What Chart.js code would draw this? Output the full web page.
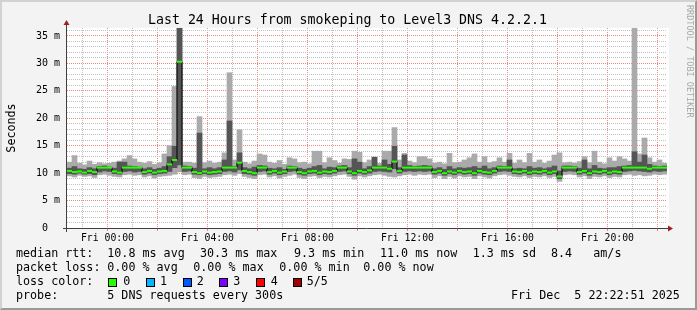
<!DOCTYPE html>
<html>
<head>
<meta charset="utf-8">
<script src="https://cdn.jsdelivr.net/npm/chart.js@4.4.1/dist/chart.umd.min.js"></script>
<style>
  html, body { margin: 0; padding: 0; }
  body { width: 697px; height: 310px; overflow: hidden; position: relative; font-family: 'DejaVu Sans Mono', monospace; }
  #frame {
    position: absolute; left: 0; top: 0; width: 697px; height: 310px; box-sizing: border-box;
    background: #f3f3f3;
    border-top: 2px solid #d2d2d2; border-left: 2px solid #d2d2d2;
    border-right: 2px solid #9a9a9a; border-bottom: 2px solid #9a9a9a;
  }
  canvas { position: absolute; left: 0; top: 0; }
  .t { position: absolute; white-space: pre; color: #000; line-height: 1; }
  .leg { font-size: 11.7px; }
  .box { position: absolute; width: 9px; height: 9px; box-sizing: border-box; border: 1px solid #000; }
</style>
</head>
<body>
<div id="frame"></div>
<canvas id="smoke" width="697" height="310"></canvas>

<div class="t" style="left:148px; top:12.8px; font-size:13.25px;">Last 24 Hours from smokeping to Level3 DNS 4.2.2.1</div>
<div class="t" style="left:-19px; top:120.5px; width:60px; height:14px; line-height:14px; text-align:center; font-size:11.7px; transform:rotate(-90deg);">Seconds</div>
<div class="t" style="left:685px; top:5px; font-size:8.5px; color:#a8a8a8; writing-mode:vertical-rl;">RRDTOOL / TOBI OETIKER</div>

<div id="legend"></div>

<script>
// time axis: hours relative to Fri 00:00, the graph ends Fri 22:22:51
const startHour = -1.619;
const binHours = 0.2;

// per 12-minute bin, milliseconds
const medianRtt = [
  10.4, 10.2, 10.3, 10.1, 10.4, 10.2, 11.0, 11.0, 11.0, 10.3,
  10.1, 11.0, 11.0, 11.0, 11.0, 10.2, 10.4, 10.1, 10.3, 10.4,
  11.6, 12.4, 30.3, 11.0, 11.0, 10.2, 10.0, 10.3, 10.1, 10.2,
  10.3, 11.0, 11.0, 11.0, 11.9, 10.4, 10.2, 10.0, 11.0, 11.0,
  10.2, 10.4, 10.1, 10.3, 11.0, 11.0, 10.2, 10.0, 10.3, 10.4,
  10.1, 10.3, 10.2, 10.4, 11.0, 11.0, 10.3, 10.0, 10.4, 10.2,
  10.5, 11.0, 11.0, 11.0, 10.8, 12.1, 10.4, 11.0, 11.0, 11.0,
  11.0, 11.0, 11.0, 10.2, 10.4, 10.0, 10.3, 10.1, 10.4, 10.2,
  10.3, 10.0, 10.4, 10.2, 10.1, 10.4, 11.0, 11.0, 11.0, 10.3,
  10.2, 10.4, 10.1, 10.3, 10.2, 10.4, 10.1, 10.3, 9.4, 11.0,
  11.0, 11.0, 10.2, 10.4, 10.0, 10.3, 10.2, 10.4, 10.1, 10.3,
  10.2, 11.0, 11.0, 11.0, 11.0, 11.0, 10.8, 11.0, 11.0, 11.0
];

const darkLo = [
  9.9, 9.8, 10.0, 9.8, 9.9, 9.7, 10.2, 10.4, 10.3, 9.9,
  9.8, 10.3, 10.4, 10.2, 10.3, 9.8, 10.0, 9.7, 9.9, 10.0,
  10.3, 11.0, 11.5, 10.3, 10.4, 9.8, 9.7, 9.9, 9.7, 9.8,
  9.9, 10.3, 10.4, 10.2, 10.6, 9.9, 9.8, 9.6, 10.3, 10.4,
  9.8, 10.0, 9.7, 9.9, 10.3, 10.4, 9.8, 9.6, 9.9, 10.0,
  9.7, 9.9, 9.8, 10.0, 10.3, 10.4, 9.9, 9.6, 10.0, 9.8,
  10.0, 10.3, 10.4, 10.3, 10.2, 10.8, 10.0, 10.3, 10.4, 10.3,
  10.4, 10.3, 10.4, 9.8, 10.0, 9.6, 9.9, 9.7, 10.0, 9.8,
  9.9, 9.6, 10.0, 9.8, 9.7, 10.0, 10.3, 10.4, 10.3, 9.9,
  9.8, 10.0, 9.7, 9.9, 9.8, 10.0, 9.7, 9.9, 9.0, 10.3,
  10.4, 10.3, 9.8, 10.0, 9.6, 9.9, 9.8, 10.0, 9.7, 9.9,
  9.8, 10.3, 10.4, 10.5, 10.4, 10.3, 10.2, 10.4, 10.3, 10.4
];

const darkHi = [
  10.9, 11.2, 10.8, 10.7, 11.0, 10.8, 11.2, 11.3, 11.1, 10.9,
  12.0, 12.0, 11.3, 11.2, 11.1, 10.8, 11.0, 10.7, 10.9, 11.2,
  13.0, 14.9, 40.0, 11.3, 11.2, 10.9, 17.3, 10.8, 11.0, 10.8,
  11.0, 12.4, 19.5, 11.2, 13.7, 11.0, 10.8, 11.1, 11.4, 11.3,
  10.9, 10.8, 11.0, 10.7, 11.3, 11.2, 10.9, 10.7, 10.9, 11.2,
  11.4, 10.8, 11.1, 11.0, 11.3, 11.4, 11.0, 12.6, 12.0, 10.8,
  11.2, 12.9, 11.3, 12.4, 11.6, 14.9, 11.0, 13.3, 11.4, 11.2,
  11.3, 11.4, 11.3, 10.8, 11.0, 10.7, 11.2, 10.8, 11.0, 10.9,
  11.0, 11.2, 10.9, 11.3, 10.8, 11.0, 11.3, 11.2, 12.4, 10.8,
  10.9, 10.8, 11.2, 10.9, 11.0, 10.8, 11.0, 11.3, 10.4, 11.3,
  11.3, 11.2, 10.9, 12.4, 10.8, 11.4, 10.9, 10.8, 11.0, 11.0,
  11.2, 11.3, 11.4, 13.9, 12.0, 13.3, 11.6, 11.3, 11.2, 11.3
];

const lightLo = [
  9.5, 9.3, 9.6, 9.4, 9.5, 9.2, 9.7, 9.8, 9.6, 9.4,
  9.3, 9.7, 9.8, 9.6, 9.7, 9.3, 9.5, 9.1, 9.4, 9.5,
  9.6, 9.8, 10.2, 9.7, 9.8, 9.2, 9.0, 9.4, 9.2, 9.3,
  9.4, 9.7, 9.8, 9.6, 9.9, 9.4, 9.2, 9.0, 9.7, 9.8,
  9.3, 9.5, 9.1, 9.4, 9.6, 9.8, 9.2, 9.0, 9.4, 9.5,
  9.2, 9.4, 9.3, 9.5, 9.7, 9.8, 9.4, 8.9, 9.5, 9.3,
  9.5, 9.7, 9.8, 9.6, 9.4, 9.3, 9.5, 9.7, 9.8, 9.6,
  9.8, 9.7, 9.8, 9.2, 9.5, 9.0, 9.4, 9.1, 9.5, 9.3,
  9.4, 9.0, 9.5, 9.3, 9.1, 9.5, 9.7, 9.8, 9.6, 9.4,
  9.3, 9.5, 9.2, 9.4, 9.3, 9.5, 9.2, 9.4, 8.5, 9.7,
  9.8, 9.7, 9.3, 9.5, 9.0, 9.4, 9.3, 9.5, 9.2, 9.4,
  9.3, 9.7, 9.8, 9.6, 9.7, 9.5, 9.6, 9.8, 9.7, 9.8
];

const lightHi = [
  12.0, 13.2, 11.8, 11.5, 12.2, 11.6, 11.9, 11.7, 11.8, 12.0,
  12.2, 12.6, 13.2, 12.6, 12.0, 11.8, 12.1, 11.6, 11.9, 13.5,
  15.0, 25.8, 40.0, 12.0, 12.0, 11.8, 20.3, 11.9, 12.2, 11.8,
  12.0, 13.7, 28.3, 12.4, 17.9, 12.0, 11.7, 12.2, 13.5, 13.3,
  12.0, 11.8, 12.3, 11.6, 12.8, 12.6, 11.9, 12.0, 11.7, 14.0,
  14.0, 11.9, 12.8, 12.3, 11.8, 12.6, 12.5, 14.0, 13.8, 11.9,
  12.4, 12.9, 11.8, 14.0, 14.0, 18.3, 12.4, 13.6, 12.2, 11.9,
  13.0, 13.0, 12.6, 11.8, 12.0, 11.7, 13.6, 11.9, 12.0, 12.4,
  12.8, 13.5, 12.0, 13.0, 11.9, 12.1, 12.8, 12.0, 13.6, 11.8,
  12.4, 11.9, 13.6, 12.0, 12.4, 11.8, 12.2, 13.3, 13.7, 11.9,
  12.0, 11.8, 12.1, 13.0, 11.9, 14.0, 12.0, 11.7, 12.8, 12.2,
  13.0, 12.6, 12.2, 40.0, 13.5, 16.4, 12.8, 12.0, 12.4, 11.8
];

const xGridHours = [-1, 0, 1, 2, 3, 4, 5, 6, 7, 8, 9, 10, 11, 12, 13, 14, 15, 16, 17, 18, 19, 20, 21, 22];
const xLabelHours = [0, 4, 8, 12, 16, 20];
const xLabelText = ['Fri 00:00', 'Fri 04:00', 'Fri 08:00', 'Fri 12:00', 'Fri 16:00', 'Fri 20:00'];
const yGridValues = [0, 1, 2, 3, 4, 5, 6, 7, 8, 9, 10, 11, 12, 13, 14, 15, 16, 17, 18, 19, 20,
  21, 22, 23, 24, 25, 26, 27, 28, 29, 30, 31, 32, 33, 34, 35, 36];
const yLabelValues = [0, 5, 10, 15, 20, 25, 30, 35];
const yLabelText = ['0  ', '5 m', '10 m', '15 m', '20 m', '25 m', '30 m', '35 m'];
const yMax = 36.45;

// legend rows: [x, text]
const legendRows = [
  [[16, 'median rtt:'], [107.3, '10.8 ms avg'], [200, '30.3 ms max'], [294, '9.3 ms min'],
   [380, '11.0 ms now'], [472.7, '1.3 ms sd'], [551, '8.4'], [593.3, 'am/s']],
  [[16, 'packet loss:'], [107.3, '0.00 % avg'], [193.3, '0.00 % max'], [279.3, '0.00 % min'], [363.3, '0.00 % now']],
  [[16, 'loss color:'], [123.3, '0'], [160, '1'], [196.7, '2'], [233.3, '3'], [270.7, '4'], [306.7, '5/5']],
  [[16, 'probe:'], [107.3, '5 DNS requests every 300s'], [511, 'Fri Dec  5 22:22:51 2025']]
];
const lossColors = ['#26ff00', '#00b8ff', '#0059ff', '#7e00ff', '#ff0000', '#a00000'];
const lossBoxX = [108.3, 145.7, 182.7, 219.3, 256, 292.7];

const legend = document.getElementById('legend');
legendRows.forEach((row, r) => {
  const baseline = 258 + r * 14;
  row.forEach(([x, text]) => {
    const d = document.createElement('div');
    d.className = 't leg';
    d.style.left = x + 'px';
    d.style.top = (baseline - 9.9) + 'px';
    d.textContent = text;
    legend.appendChild(d);
  });
});
lossColors.forEach((c, i) => {
  const b = document.createElement('div');
  b.className = 'box';
  b.style.left = lossBoxX[i] + 'px';
  b.style.top = '278px';
  b.style.background = c;
  legend.appendChild(b);
});

const binX = medianRtt.map((_, i) => startHour + binHours * (i + 0.5));
const toBars = (lo, hi) => lo.map((v, i) => ({ x: binX[i], y: [v, hi[i]] }));
const toPoints = (vals) => vals.map((v, i) => ({ x: binX[i], y: v }));

const rrdFrame = {
  id: 'rrdFrame',
  beforeDraw(chart) {
    const { ctx, chartArea: a } = chart;
    ctx.save();
    ctx.fillStyle = '#ffffff';
    ctx.fillRect(a.left, a.top, a.right - a.left + 2, a.bottom - a.top);
    ctx.restore();
  },
  afterDraw(chart) {
    const { ctx, chartArea: a } = chart;
    ctx.save();
    ctx.strokeStyle = '#404040';
    ctx.lineWidth = 1;
    ctx.beginPath();
    ctx.moveTo(a.left - 0.5, a.bottom + 4);
    ctx.lineTo(a.left - 0.5, a.top - 5);
    ctx.moveTo(a.left - 4, a.bottom + 0.5);
    ctx.lineTo(a.right + 3, a.bottom + 0.5);
    ctx.stroke();
    ctx.fillStyle = '#a02020';
    ctx.beginPath();
    ctx.moveTo(a.left - 3.5, a.top - 3);
    ctx.lineTo(a.left + 2.5, a.top - 3);
    ctx.lineTo(a.left - 0.5, a.top - 8);
    ctx.closePath();
    ctx.fill();
    ctx.beginPath();
    ctx.moveTo(a.right + 1, a.bottom - 2.5);
    ctx.lineTo(a.right + 1, a.bottom + 3.5);
    ctx.lineTo(a.right + 6, a.bottom + 0.5);
    ctx.closePath();
    ctx.fill();
    ctx.restore();
  }
};

Chart.defaults.font.family = "'DejaVu Sans Mono', monospace";
Chart.defaults.color = '#000';

new Chart(document.getElementById('smoke'), {
  type: 'bar',
  data: {
    datasets: [
      {
        type: 'line', label: 'median', data: toPoints(medianRtt), order: 0,
        showLine: false, pointStyle: 'line', pointRadius: 2.5, pointBorderWidth: 2,
        pointBorderColor: '#26ff00', borderColor: '#26ff00'
      },
      {
        type: 'line', label: 'median step', data: toPoints(medianRtt), order: 1,
        stepped: 'middle', borderColor: '#000000', borderWidth: 1, pointRadius: 0
      },
      {
        label: 'inner', data: toBars(darkLo, darkHi), order: 2,
        backgroundColor: '#555555', barPercentage: 1, categoryPercentage: 1, grouped: false
      },
      {
        label: 'outer', data: toBars(lightLo, lightHi), order: 3,
        backgroundColor: '#aaaaaa', barPercentage: 1, categoryPercentage: 1, grouped: false
      }
    ]
  },
  options: {
    responsive: false,
    animation: false,
    devicePixelRatio: 1,
    layout: { padding: { left: 0, right: 30, top: 28, bottom: 0 } },
    plugins: { legend: { display: false }, tooltip: { enabled: false } },
    scales: {
      x: {
        type: 'linear',
        min: startHour,
        max: startHour + 24,
        offset: false,
        afterBuildTicks: (scale) => { scale.ticks = xGridHours.map(v => ({ value: v })); },
        afterFit: (scale) => { scale.height = 82; },
        ticks: {
          autoSkip: false, maxRotation: 0, minRotation: 0, padding: 2,
          font: { size: 9.8 },
          callback: (v) => {
            const k = xLabelHours.indexOf(v);
            return k >= 0 ? xLabelText[k] : '';
          }
        },
        grid: {
          offset: false,
          drawTicks: true,
          tickLength: 3,
          color: (c) => (c.tick && c.tick.value % 2 === 0) ? '#f08888' : '#c2c2c2',
          tickColor: (c) => (c.tick && c.tick.value % 2 === 0) ? '#f08080' : 'rgba(0,0,0,0)'
        },
        border: { display: false, dash: [1, 1] }
      },
      y: {
        min: 0,
        max: yMax,
        afterBuildTicks: (scale) => { scale.ticks = yGridValues.map(v => ({ value: v })); },
        afterFit: (scale) => { scale.width = 67; },
        ticks: {
          autoSkip: false, padding: 7,
          font: { size: 10 },
          callback: (v) => {
            const k = yLabelValues.indexOf(v);
            return k >= 0 ? yLabelText[k] : '';
          }
        },
        grid: {
          drawTicks: false,
          color: (c) => {
            if (!c.tick || c.tick.value === 0) return 'rgba(0,0,0,0)';
            return c.tick.value % 5 === 0 ? '#f08888' : '#c2c2c2';
          }
        },
        border: { display: false, dash: [1, 1] }
      }
    }
  },
  plugins: [rrdFrame]
});
</script>
</body>
</html>
